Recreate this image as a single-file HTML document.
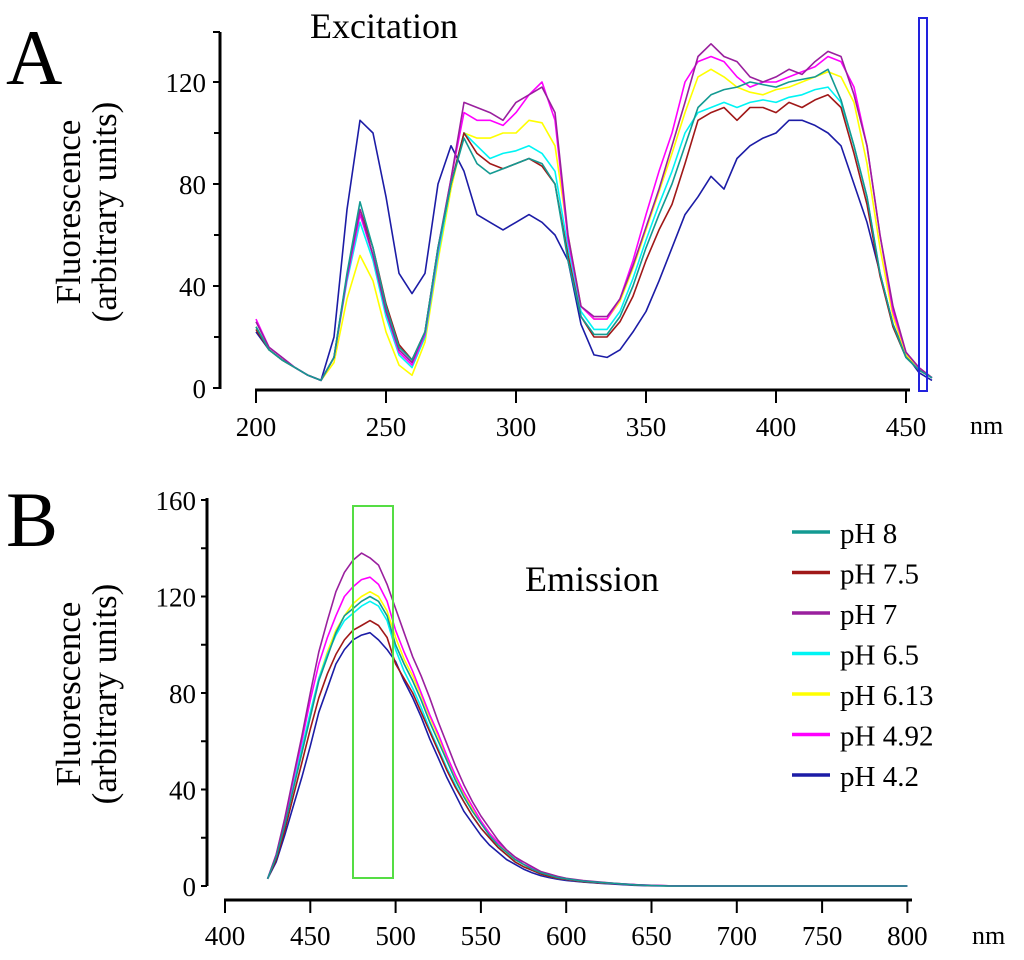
<!DOCTYPE html>
<html><head><meta charset="utf-8">
<style>
html,body{margin:0;padding:0;background:#fff;}
svg{display:block;font-family:"Liberation Serif",serif;}
</style></head>
<body>
<svg id="chart" width="1024" height="960" viewBox="0 0 1024 960">
  <text x="6" y="84" font-size="78">A</text>
  <text x="310" y="38" font-size="36">Excitation</text>
  <g transform="translate(80,212) rotate(-90)">
    <text x="0" y="0" font-size="35" text-anchor="middle">Fluorescence</text>
    <text x="0" y="36" font-size="35" text-anchor="middle">(arbitrary units)</text>
  </g>
  <text x="6" y="546" font-size="78">B</text>
  <text x="525" y="591" font-size="36">Emission</text>
  <g transform="translate(80,694) rotate(-90)">
    <text x="0" y="0" font-size="35" text-anchor="middle">Fluorescence</text>
    <text x="0" y="36" font-size="35" text-anchor="middle">(arbitrary units)</text>
  </g>
  <g id="axesA"></g><g id="seriesA"></g>
  <g id="axesB"></g><g id="seriesB"></g>
  <g id="legend"></g>
  <rect x="919" y="18" width="8" height="373" fill="none" stroke="#2222dd" stroke-width="2"/>
  <rect x="353" y="506" width="40" height="372" fill="none" stroke="#55dd44" stroke-width="2"/>
</svg>
<script>
const seriesNames = ["pH 8","pH 7.5","pH 7","pH 6.5","pH 6.13","pH 4.92","pH 4.2"];
const seriesColors = ["#139a92","#a01818","#9a209e","#00f4f4","#ffff00","#ff00ff","#1c1ca6"];
const exWavelengths = [];
for (let w = 200; w <= 460; w += 5) exWavelengths.push(w);
const exPH8 = [24,15,11,8,5,3,12,45,73,55,32,16,11,22,55,80,98,88,84,86,88,90,88,80,50,28,21,21,28,40,55,68,80,95,110,115,117,118,120,119,118,120,121,122,125,113,95,75,45,25,12,7,4];
const exPH75 = [23,15,11,8,5,3,12,44,70,55,33,17,11,22,55,80,100,92,88,86,88,90,87,80,52,28,20,20,26,36,50,62,72,88,105,108,110,105,110,110,108,112,110,113,115,110,92,72,44,24,12,7,4];
const exPH7 = [26,16,12,8,5,3,12,44,70,52,30,15,10,22,55,82,112,110,108,105,112,115,118,108,60,32,28,28,35,48,63,78,95,112,130,135,130,128,122,120,122,125,123,128,132,130,115,95,60,32,14,8,4];
const exPH65 = [24,15,11,8,5,3,12,42,65,50,28,13,8,20,52,80,100,95,90,92,93,95,92,85,55,30,23,23,30,43,58,72,85,100,108,110,112,110,112,113,112,114,115,117,118,112,95,75,45,24,12,7,4];
const exPH613 = [24,15,11,8,5,3,10,35,52,42,22,9,5,18,50,78,100,98,98,100,100,105,104,95,60,32,27,27,34,47,62,77,92,108,122,125,122,118,116,115,117,118,120,122,124,122,112,88,55,28,13,8,4];
const exPH492 = [27,16,12,8,5,3,12,43,68,52,30,14,9,21,54,82,108,105,105,103,108,115,120,105,58,32,27,27,35,50,68,85,100,120,128,130,128,122,118,120,120,122,124,126,130,128,118,95,60,30,14,8,4];
const exPH42 = [22,15,11,8,5,3,20,70,105,100,75,45,37,45,80,95,85,68,65,62,65,68,65,60,50,25,13,12,15,22,30,42,55,68,75,83,78,90,95,98,100,105,105,103,100,95,80,65,45,25,13,6,3];

const emWavelengths = [425,430,435,440,445,450,455,460,465,470,475,480,485,490,495,500,505,510,515,520,525,530,535,540,545,550,555,560,565,570,575,580,585,590,595,600,610,620,630,640,650,660,680,700,800];
const emPH8 = [3,12,25,40,55,70,85,95,105,112,115,118,120,118,112,100,92,85,77,68,60,52,44,37,31,26,21,17,14,11,9,7,5.5,4.5,3.5,3,2,1.5,1,0.5,0.2,0,0,0,0];
const emPH75 = [3,11,23,37,51,65,78,88,96,102,106,108,110,108,103,92,86,80,72,64,56,48,41,35,29,24,20,16,13,10,8,6.5,5,4,3.2,2.7,1.8,1.3,0.9,0.4,0.2,0.1,0,0,0];
const emPH7 = [3,13,28,45,62,80,97,110,122,130,135,138,136,133,125,115,105,95,87,78,68,59,50,42,35,29,24,19,15,12,10,8,6,5,4,3.2,2.3,1.6,1,0.6,0.3,0.1,0,0,0];
const emPH65 = [3,12,26,42,57,72,86,96,104,110,113,116,118,116,110,98,89,82,74,65,57,49,42,35,29,24,20,16,13,10,8,6.5,5,4,3.2,2.7,1.8,1.3,0.9,0.4,0.2,0,0,0,0];
const emPH613 = [3,12,25,41,56,71,86,97,106,112,117,120,122,120,114,103,94,87,79,70,62,53,45,38,32,27,22,18,14,11,9,7,5.5,4.5,3.5,3,2,1.5,1,0.5,0.2,0,0,0,0];
const emPH492 = [3,13,27,44,60,77,92,103,112,120,124,127,128,125,118,106,97,89,80,71,63,54,46,39,33,27,22,18,15,12,9,7.5,6,4.7,3.7,3,2.1,1.5,1,0.6,0.3,0.1,0,0,0];
const emPH42 = [3,10,21,33,45,58,72,82,92,98,102,104,105,102,98,93,85,78,70,61,53,45,38,31,26,21,17,14,11,9,7,5.5,4.3,3.5,2.8,2.3,1.6,1.1,0.7,0.3,0.1,0,0,0,0];

const exTicksX = [200,250,300,350,400,450];
const exTicksY = [0,40,80,120];
const emTicksX = [400,450,500,550,600,650,700,750,800];
const emTicksY = [0,40,80,120,160];

const NS = "http://www.w3.org/2000/svg";
function mk(tag, attrs, parent){const e=document.createElementNS(NS,tag);for(const k in attrs)e.setAttribute(k,attrs[k]);parent.appendChild(e);return e;}

const xA = v => 256 + (v-200)*2.6;
const yA = v => 388 - v*(388-82)/120;
const xB = v => 225 + (v-400)*(85.3/50);
const yB = v => 886 - v*(886-500)/160;

const axA = document.getElementById('axesA');
let l = mk('line',{x1:220,y1:32,x2:220,y2:389,stroke:'#000','stroke-width':3},axA);


mk('line',{x1:213,y1:32,x2:220,y2:32,stroke:'#000','stroke-width':2},axA);
l = mk('line',{x1:255,y1:390,x2:910,y2:390,stroke:'#000','stroke-width':3},axA);


[20,60,100].forEach(v=>{mk('line',{x1:214,y1:yA(v),x2:220,y2:yA(v),stroke:'#000','stroke-width':2},axA);});
exTicksY.forEach(v=>{
  mk('line',{x1:213,y1:yA(v),x2:220,y2:yA(v),stroke:'#000','stroke-width':2},axA);
  const t=mk('text',{x:206,y:yA(v)+10,'font-size':27,'text-anchor':'end'},axA);t.textContent=v;
  
  
});
exTicksX.forEach(v=>{
  mk('line',{x1:xA(v),y1:390,x2:xA(v),y2:403,stroke:'#000','stroke-width':2},axA);
  const t=mk('text',{x:xA(v),y:436,'font-size':27,'text-anchor':'middle'},axA);t.textContent=v;
  
  
});
let nm=mk('text',{x:970,y:434,'font-size':26},axA);nm.textContent='nm';



const axB = document.getElementById('axesB');
l = mk('line',{x1:207,y1:498,x2:207,y2:886,stroke:'#000','stroke-width':3},axB);


l = mk('line',{x1:224,y1:900,x2:912,y2:900,stroke:'#000','stroke-width':3},axB);


[20,60,100,140].forEach(v=>{mk('line',{x1:201,y1:yB(v),x2:207,y2:yB(v),stroke:'#000','stroke-width':2},axB);});
emTicksY.forEach(v=>{
  mk('line',{x1:201,y1:yB(v),x2:207,y2:yB(v),stroke:'#000','stroke-width':2},axB);
  const t=mk('text',{x:196,y:yB(v)+10,'font-size':27,'text-anchor':'end'},axB);t.textContent=v;
  
  
});
emTicksX.forEach(v=>{
  mk('line',{x1:xB(v),y1:900,x2:xB(v),y2:913,stroke:'#000','stroke-width':2},axB);
  const t=mk('text',{x:xB(v),y:945,'font-size':27,'text-anchor':'middle'},axB);t.textContent=v;
  
  
});
nm=mk('text',{x:972,y:944,'font-size':26},axB);nm.textContent='nm';



const exData=[exPH8,exPH75,exPH7,exPH65,exPH613,exPH492,exPH42];
const emData=[emPH8,emPH75,emPH7,emPH65,emPH613,emPH492,emPH42];
const order=[6,4,3,1,5,2,0];
const gA=document.getElementById('seriesA'), gB=document.getElementById('seriesB');
order.forEach(i=>{
  const pa=mk('polyline',{points:exWavelengths.map((w,j)=>xA(w).toFixed(1)+','+yA(exData[i][j]).toFixed(1)).join(' '),fill:'none',stroke:seriesColors[i],'stroke-width':1.6,'stroke-linejoin':'round'},gA);
  
  
  const pb=mk('polyline',{points:emWavelengths.map((w,j)=>xB(w).toFixed(1)+','+yB(emData[i][j]).toFixed(1)).join(' '),fill:'none',stroke:seriesColors[i],'stroke-width':1.6,'stroke-linejoin':'round'},gB);
  
  
});

const lg=document.getElementById('legend');
seriesNames.forEach((n,i)=>{
  const y=532+i*40.5;
  const g=mk('g',{},lg);
  
  
  mk('line',{x1:792,y1:y,x2:830,y2:y,stroke:seriesColors[i],'stroke-width':3.5},g);
  const t=mk('text',{x:840,y:y+11,'font-size':29},g);t.textContent=n;
});
</script>
</body></html>
